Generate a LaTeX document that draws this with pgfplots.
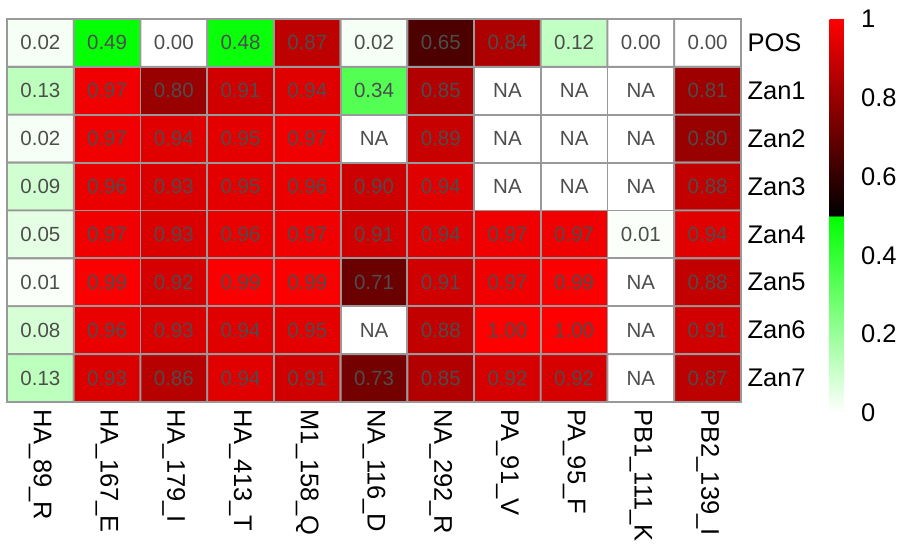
\documentclass[border=0pt]{standalone}
\usepackage{fontspec}
\setmainfont{Liberation Sans}
\usepackage{pgfplots}
\usepackage{pgfplotstable}
\pgfplotsset{compat=1.18}
\definecolor{gridgray}{RGB}{153,153,153}
\definecolor{numgray}{RGB}{77,77,77}
\pgfplotstableread{
x y v lab
0 0 0.02 0.02
1 0 0.49 0.49
2 0 0.00 0.00
3 0 0.48 0.48
4 0 0.87 0.87
5 0 0.02 0.02
6 0 0.65 0.65
7 0 0.84 0.84
8 0 0.12 0.12
9 0 0.00 0.00
10 0 0.00 0.00
0 1 0.13 0.13
1 1 0.97 0.97
2 1 0.80 0.80
3 1 0.91 0.91
4 1 0.94 0.94
5 1 0.34 0.34
6 1 0.85 0.85
7 1 0 NA
8 1 0 NA
9 1 0 NA
10 1 0.81 0.81
0 2 0.02 0.02
1 2 0.97 0.97
2 2 0.94 0.94
3 2 0.95 0.95
4 2 0.97 0.97
5 2 0 NA
6 2 0.89 0.89
7 2 0 NA
8 2 0 NA
9 2 0 NA
10 2 0.80 0.80
0 3 0.09 0.09
1 3 0.96 0.96
2 3 0.93 0.93
3 3 0.95 0.95
4 3 0.96 0.96
5 3 0.90 0.90
6 3 0.94 0.94
7 3 0 NA
8 3 0 NA
9 3 0 NA
10 3 0.88 0.88
0 4 0.05 0.05
1 4 0.97 0.97
2 4 0.93 0.93
3 4 0.96 0.96
4 4 0.97 0.97
5 4 0.91 0.91
6 4 0.94 0.94
7 4 0.97 0.97
8 4 0.97 0.97
9 4 0.01 0.01
10 4 0.94 0.94
0 5 0.01 0.01
1 5 0.99 0.99
2 5 0.92 0.92
3 5 0.99 0.99
4 5 0.99 0.99
5 5 0.71 0.71
6 5 0.91 0.91
7 5 0.97 0.97
8 5 0.99 0.99
9 5 0 NA
10 5 0.88 0.88
0 6 0.08 0.08
1 6 0.96 0.96
2 6 0.93 0.93
3 6 0.94 0.94
4 6 0.95 0.95
5 6 0 NA
6 6 0.88 0.88
7 6 1.00 1.00
8 6 1.00 1.00
9 6 0 NA
10 6 0.91 0.91
0 7 0.13 0.13
1 7 0.93 0.93
2 7 0.86 0.86
3 7 0.94 0.94
4 7 0.91 0.91
5 7 0.73 0.73
6 7 0.85 0.85
7 7 0.92 0.92
8 7 0.92 0.92
9 7 0 NA
10 7 0.87 0.87
}\hm
\begin{document}
\begin{tikzpicture}
\begin{axis}[
  name=main,
  scale only axis,
  width=734pt, height=383pt,
  xmin=-0.5, xmax=10.5, ymin=-0.5, ymax=7.5,
  y dir=reverse,
  clip=false,
  axis line style={draw=none},
  major tick length=0pt,
  xtick={0,...,10},
  xticklabels={HA\_89\_R,HA\_167\_E,HA\_179\_I,HA\_413\_T,M1\_158\_Q,NA\_116\_D,NA\_292\_R,PA\_91\_V,PA\_95\_F,PB1\_111\_K,PB2\_139\_I},
  xticklabel style={rotate=-90, anchor=west, font=\fontsize{25.5}{28}\selectfont, xshift=4pt},
  ytick={0,...,7},
  yticklabels={POS,Zan1,Zan2,Zan3,Zan4,Zan5,Zan6,Zan7},
  yticklabel pos=right,
  yticklabel style={anchor=west, font=\fontsize{25.5}{28}\selectfont, xshift=3pt},
  colormap={hm}{rgb255(0)=(255,255,255) rgb255(500)=(0,255,0) rgb255(501)=(0,0,0) rgb255(1000)=(255,0,0)},
  point meta min=0, point meta max=1,
  colorbar,
  colorbar style={
    at={(parent axis.north east)}, anchor=north west, xshift=80pt,
    width=27pt, height=394pt,
    axis line style={draw=none},
    major tick length=0pt,
    ytick={0,0.2,0.4,0.6,0.8,1},
    yticklabels={0,0.2,0.4,0.6,0.8,1},
    yticklabel style={font=\fontsize{25.5}{28}\selectfont, xshift=1pt},
  },
]
\addplot[matrix plot*, mesh/cols=11, point meta=explicit, draw=gridgray, line width=1.8pt]
  table[x=x, y=y, meta=v] {\hm};
\addplot[only marks, mark=none, point meta=explicit symbolic,
  nodes near coords,
  every node near coord/.append style={anchor=center, text=numgray, font=\fontsize{20.5}{24}\selectfont}]
  table[x=x, y=y, meta=lab] {\hm};
\end{axis}
\path (main.south west) ++(-7pt,-153pt) coordinate (bl);
\path (main.north east) ++(171pt,19pt) coordinate (tr);
\pgfresetboundingbox
\path[use as bounding box] (bl) rectangle (tr);
\end{tikzpicture}
\end{document}
